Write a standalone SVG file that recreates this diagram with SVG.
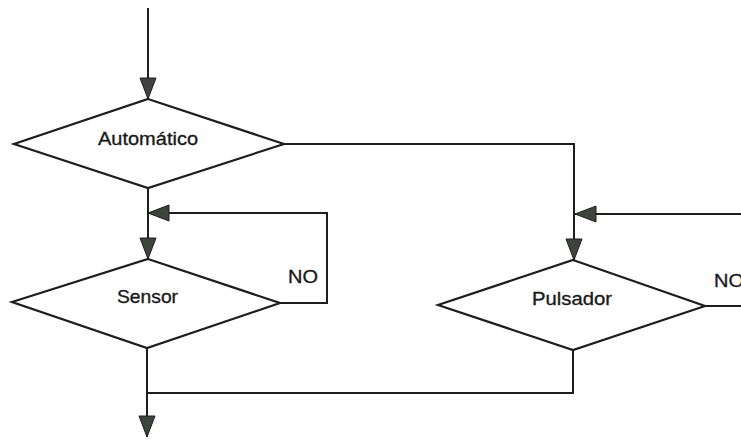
<svg xmlns="http://www.w3.org/2000/svg" width="741" height="440" viewBox="0 0 741 440">
  <style>
    .shape { fill: #ffffff; stroke: #1e1e1e; stroke-width: 2.2; stroke-linejoin: miter; }
    .wire { fill: none; stroke: #1e1e1e; stroke-width: 2; }
    .label { font-family: "Liberation Sans", Arial, sans-serif; font-size: 19px; fill: #1a1a1a; stroke: #1a1a1a; stroke-width: 0.35; }
  </style>
  <defs>
    <marker id="arrow" markerUnits="userSpaceOnUse" markerWidth="26" markerHeight="20" refX="22" refY="9" orient="auto">
      <path d="M1,1 L22,9 L1,17 Z" fill="#3c443c" stroke="#1e1e1e" stroke-width="1"/>
    </marker>
  </defs>
  <rect width="741" height="440" fill="#ffffff"/>

  <g id="connectors">
    <path class="wire" d="M148,8 V99" marker-end="url(#arrow)"/>
    <path class="wire" d="M148,188 V259" marker-end="url(#arrow)"/>
    <path class="wire" d="M280,303 H327 V213 H148" marker-end="url(#arrow)"/>
    <path class="wire" d="M147,348 V437" marker-end="url(#arrow)"/>
    <path class="wire" d="M573,350 V393 H147"/>
    <path class="wire" d="M284,144 H574 V260" marker-end="url(#arrow)"/>
    <path class="wire" d="M741,214 H575" marker-end="url(#arrow)"/>
    <path class="wire" d="M705,306 H741"/>
  </g>

  <g id="automatico">
    <polygon class="shape" points="148,99 284,144 148,188 14,144"/>
    <text class="label" x="148" y="145" text-anchor="middle" textLength="100" lengthAdjust="spacingAndGlyphs">Automático</text>
  </g>

  <g id="sensor">
    <polygon class="shape" points="148,259 280,303 147,348 12,302"/>
    <text class="label" x="147.5" y="303" text-anchor="middle" textLength="61" lengthAdjust="spacingAndGlyphs">Sensor</text>
    <text class="label" x="288" y="283" textLength="30" lengthAdjust="spacingAndGlyphs">NO</text>
  </g>

  <g id="pulsador">
    <polygon class="shape" points="573,260 705,306 573,350 438,305"/>
    <text class="label" x="572" y="305" text-anchor="middle" textLength="80" lengthAdjust="spacingAndGlyphs">Pulsador</text>
    <text class="label" x="714" y="287" textLength="30" lengthAdjust="spacingAndGlyphs">NO</text>
  </g>
</svg>
